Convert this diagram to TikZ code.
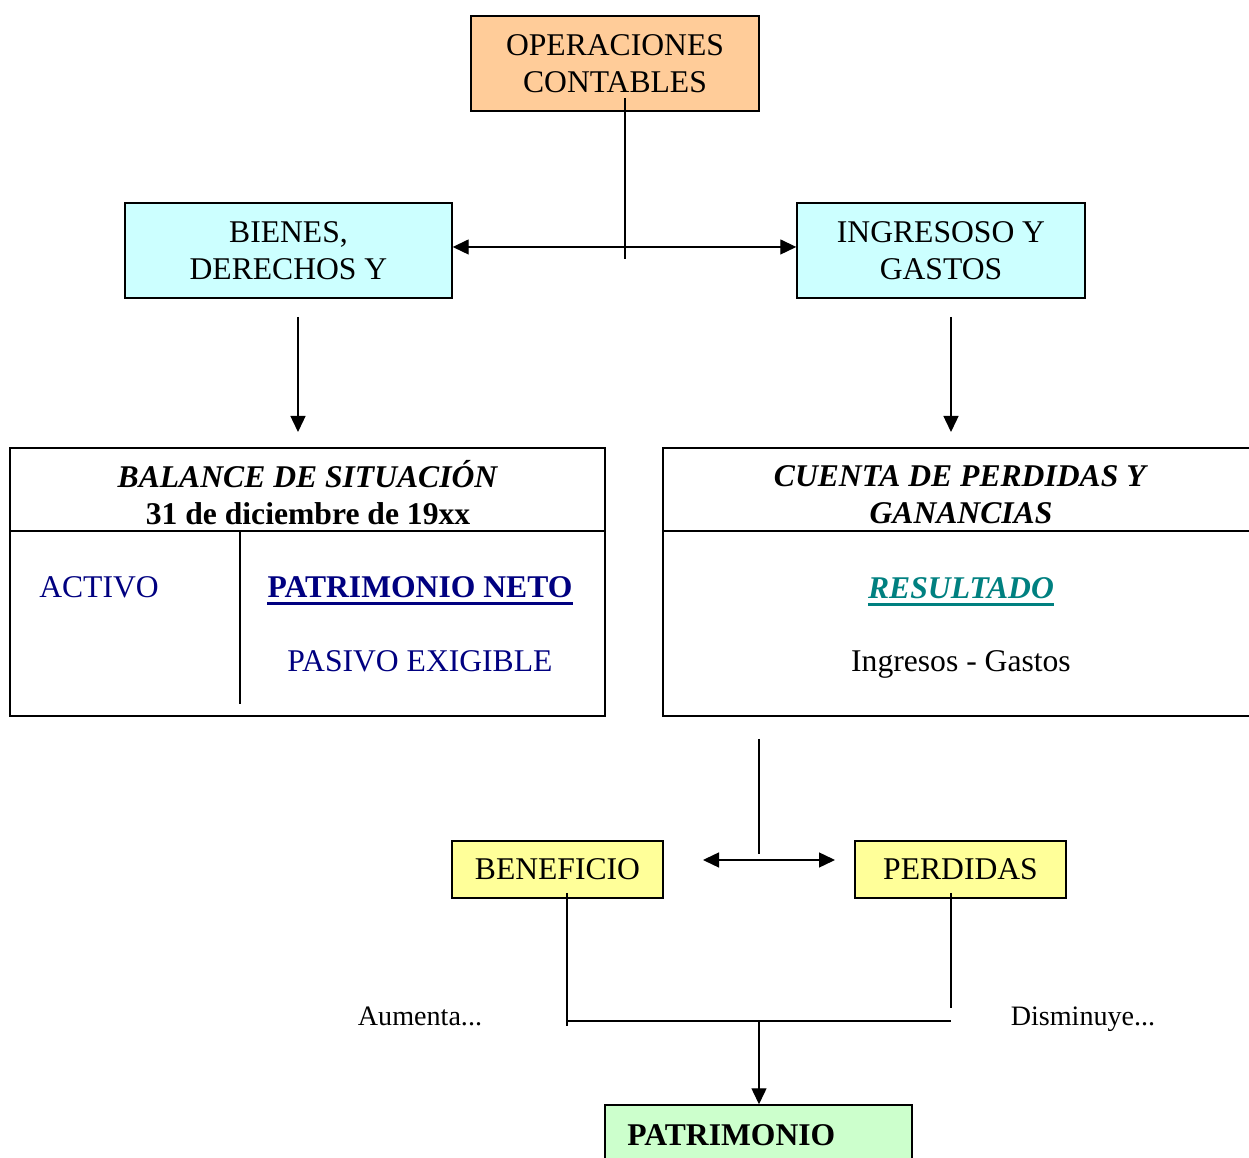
\documentclass[tikz,border=0pt]{standalone}
\usepackage{fontspec}
\setmainfont{Liberation Serif}
\usetikzlibrary{arrows.meta}
\definecolor{opfill}{HTML}{FFCC99}
\definecolor{cyanfill}{HTML}{CCFFFF}
\definecolor{yelfill}{HTML}{FFFF99}
\definecolor{grnfill}{HTML}{CCFFCC}
\definecolor{navytext}{HTML}{000080}
\definecolor{tealtext}{HTML}{008080}
\begin{document}
\begin{tikzpicture}[x=0.02cm,y=-0.02cm,
  every node/.style={font=\fontsize{18}{21}\selectfont},
  box/.style={draw,line width=0.85pt,inner sep=0pt,align=center},
  conn/.style={line width=0.8pt},
  tipend/.style={-{Triangle[length=0.32cm,width=0.3cm]}},
  tipboth/.style={{Triangle[length=0.32cm,width=0.3cm]}-{Triangle[length=0.32cm,width=0.3cm]}},
  txt/.style={inner sep=0pt,align=center}]
\useasboundingbox (0,0) rectangle (1249,1158);
\clip (0,0) rectangle (1249,1158);

% top boxes
\node[box,fill=opfill,minimum width=5.76cm,minimum height=1.9cm] (ops) at (615,63.5) {OPERACIONES\\CONTABLES};
\node[box,fill=cyanfill,minimum width=6.54cm,minimum height=1.9cm] (bienes) at (288.5,250.5) {BIENES,\\DERECHOS Y};
\node[box,fill=cyanfill,minimum width=5.76cm,minimum height=1.9cm] (ingr) at (941,250.5) {INGRESOSO Y\\GASTOS};

\coordinate (j1top) at (625,98);
\coordinate (j1bot) at (625,259);
\draw[conn] (j1top) -- (j1bot);
\draw[conn,tipboth] ([yshift=2pt]bienes.east) -- ([yshift=2pt]ingr.west);

\coordinate (a1s) at (298,317);
\coordinate (a1e) at (298,432);
\coordinate (a2s) at (951,317);
\coordinate (a2e) at (951,432);
\draw[conn,tipend] (a1s) -- (a1e);
\draw[conn,tipend] (a2s) -- (a2e);

% balance box
\node[draw,line width=0.85pt,minimum width=11.9cm,minimum height=5.36cm,inner sep=0pt] (bal) at (307.5,582) {};
\draw[line width=0.85pt] (10,531) -- (605,531);
\draw[line width=0.85pt] (240,531) -- (240,704);
\node[txt] (balt) at (308,492.5) {\textbf{\textit{BALANCE DE SITUACIÓN}}\\\textbf{31 de diciembre de 19xx}};
\node[txt,text=navytext] (act) at (99,587) {ACTIVO};
\node[txt,text=navytext,anchor=base] (pn) at (420,597.5) {\textbf{PATRIMONIO NETO}};
\draw[navytext,line width=1.6pt] ([yshift=-3.2pt]pn.base west) -- ([yshift=-3.2pt]pn.base east);
\node[txt,text=navytext] (pe) at (420,661) {PASIVO EXIGIBLE};

% cuenta box
\node[draw,line width=0.85pt,minimum width=11.9cm,minimum height=5.36cm,inner sep=0pt] (cta) at (960.5,582) {};
\draw[line width=0.85pt] (663,531) -- (1258,531);
\node[txt] (ctat) at (961,494.5) {\textbf{\textit{CUENTA DE PERDIDAS Y}}\\\textbf{\textit{GANANCIAS}}};
\node[txt,text=tealtext,anchor=base] (res) at (961,598.5) {\textbf{\textit{RESULTADO}}};
\draw[tealtext,line width=1.6pt] ([yshift=-3.2pt]res.base west) -- ([yshift=-3.2pt]res.base east);
\node[txt] (ig) at (961,664) {Ingresos - Gastos};

% middle split
\coordinate (j2top) at (759,739);
\coordinate (j2bot) at (759,854);
\coordinate (dl) at (703,860);
\coordinate (dr) at (835,860);
\draw[conn] (j2top) -- (j2bot);
\draw[conn,tipboth] (dl) -- (dr);

\node[box,fill=yelfill,minimum width=4.22cm,minimum height=1.14cm] (ben) at (557.5,869.5) {BENEFICIO};
\node[box,fill=yelfill,minimum width=4.22cm,minimum height=1.14cm] (per) at (960.5,869.5) {PERDIDAS};

% bottom joins
\coordinate (bt) at (567,893);
\coordinate (bb) at (567,1026);
\coordinate (pt) at (951,893);
\coordinate (pb) at (951,1008);
\coordinate (hl) at (567,1021);
\coordinate (hr) at (951,1021);
\coordinate (hm) at (759,1021);
\draw[conn] (bt) -- (bb);
\draw[conn] (pt) -- (pb);
\draw[conn] (hl) -- (hr);

\node[box,fill=grnfill,minimum width=6.14cm,minimum height=1.6cm] (pat) at (758.5,1145) {};
\node[txt,anchor=west] (patt) at (627,1135) {\textbf{PATRIMONIO}};
\draw[conn,tipend] (hm) -- (pat.north -| hm);

\node[txt,font=\fontsize{16}{19}\selectfont,anchor=base] (aum) at (420,1026) {Aumenta...};
\node[txt,font=\fontsize{16}{19}\selectfont,anchor=base] (dis) at (1083,1026) {Disminuye...};
\end{tikzpicture}
\end{document}
